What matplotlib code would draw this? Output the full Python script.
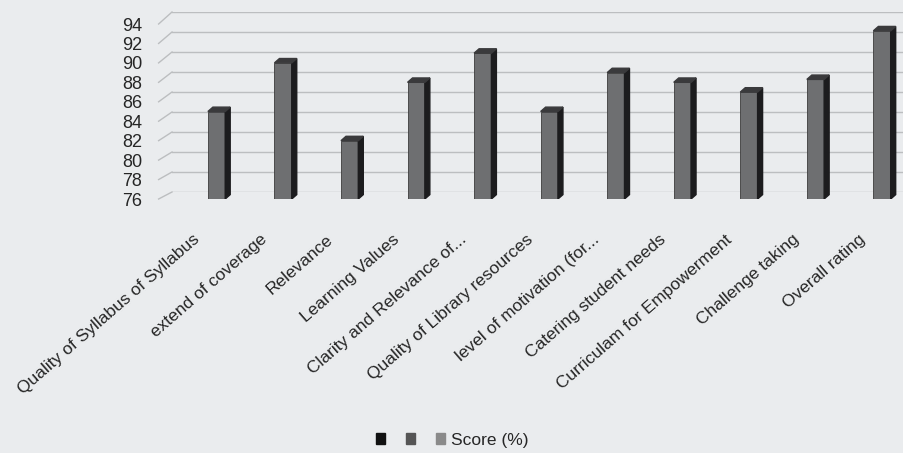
import matplotlib
matplotlib.use("Agg")
import matplotlib.pyplot as plt
from matplotlib.patches import Patch
from matplotlib.legend_handler import HandlerTuple
from matplotlib.lines import Line2D

categories = [
    "Quality of Syllabus of Syllabus",
    "extend of coverage",
    "Relevance",
    "Learning Values",
    "Clarity and Relevance of...",
    "Quality of Library resources",
    "level of motivation (for...",
    "Catering student needs",
    "Curriculam for Empowerment",
    "Challenge taking",
    "Overall rating",
]
scores = [85, 90, 82, 88, 91, 85, 89, 88, 87, 88.3, 93.3]
y_ticks = [76, 78, 80, 82, 84, 86, 88, 90, 92, 94]
series_name = "Score (%)"

plt.rcParams['font.family'] = ['Liberation Sans', 'DejaVu Sans']

W, H = 904, 453
fig = plt.figure(figsize=(W / 100, H / 100), dpi=100)
bg = '#eaecee'
fig.patch.set_facecolor(bg)

def px_box(l, t, r, b):
    return [l / W, 1 - b / H, (r - l) / W, (b - t) / H]

xmin, xmax = -0.925, 10.33
ymin, ymax = 76, 94

# back wall (gridlines), offset up/right for 3D look
back = fig.add_axes(px_box(172, 12, 904 + 17, 192))
back.set_xlim(xmin, xmax)
back.set_ylim(ymin, ymax)
back.patch.set_alpha(0)
for s in back.spines.values():
    s.set_visible(False)
back.set_xticks([])
back.set_yticks([])
for v in y_ticks:
    back.axhline(v, color='#bcbec0', lw=1.0, zorder=0)

# front axes (bars and labels)
ax = fig.add_axes(px_box(155, 24, 904, 199))
ax.set_xlim(xmin, xmax)
ax.set_ylim(ymin, ymax)
ax.patch.set_alpha(0)
for s in ax.spines.values():
    s.set_visible(False)
ax.set_yticks(y_ticks)
ax.set_yticklabels([str(v) for v in y_ticks], fontsize=13, color='#262626')
ax.tick_params(axis='y', length=0, pad=9)
ax.set_xticks([])

# diagonal connectors at left edge
for v in y_ticks:
    p1 = ax.transData.transform((xmin, v))
    p2 = back.transData.transform((xmin, v))
    fig.add_artist(Line2D([p1[0] / W + 0.004, p2[0] / W], [p1[1] / H, p2[1] / H],
                          transform=fig.transFigure, color='#bcbec0', lw=1.0))

bw = 0.26
dx = 0.075
dy = 0.45
front_col = '#6e6f71'
side_col = '#1c1c1e'
top_col = '#3a3a3c'
for i, v in enumerate(scores):
    ax.bar(i, v - ymin, bottom=ymin, width=bw, color=front_col, edgecolor='#3c3c3c',
           linewidth=0.6, zorder=3)
    r = i + bw / 2
    ax.fill([r, r, r + dx, r + dx], [ymin, v, v + dy, ymin + dy], color=side_col, zorder=3)
    l = i - bw / 2
    ax.fill([l, r, r + dx, l + dx], [v, v, v + dy, v + dy], color=top_col, zorder=3)

for i, c in enumerate(categories):
    ax.text(i - 0.28, -0.22, c, transform=ax.get_xaxis_transform(), rotation=41,
            rotation_mode='anchor', ha='right', va='center', fontsize=12.5,
            color='#262626')

handles = [(Patch(color='#111111'), Patch(color='#555555'), Patch(color='#8a8a8a'))]
leg = fig.legend(handles, [series_name], loc='center', bbox_to_anchor=(452 / W, 1 - 440 / H),
                 handler_map={tuple: HandlerTuple(ndivide=None, pad=1.2)},
                 frameon=False, fontsize=12.5, handlelength=4.0, handleheight=0.6,
                 handletextpad=0.3)
for t in leg.get_texts():
    t.set_color('#262626')

fig.savefig('out.png', dpi=100, facecolor=bg)
